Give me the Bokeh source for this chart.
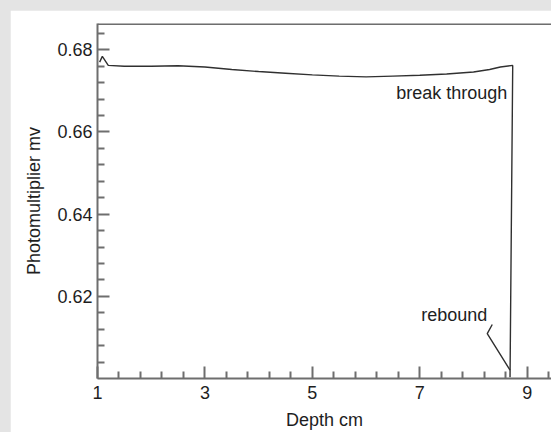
from bokeh.plotting import figure
from bokeh.models import FixedTicker, Span, Spacer, ColumnDataSource
from bokeh.layouts import column, row
from bokeh.embed import file_html
from bokeh.resources import INLINE
from bokeh.core.properties import value

# ---- data ----
depth = [1.04, 1.09, 1.2, 1.5, 2.0, 2.5, 3.0, 3.5, 4.0, 4.5, 5.0, 5.5, 6.0,
         6.5, 7.0, 7.5, 8.0, 8.3, 8.5, 8.73, 8.68]
signal = [0.6770, 0.6784, 0.6762, 0.6760, 0.6760, 0.6761, 0.6758, 0.6752,
          0.6747, 0.6743, 0.6739, 0.6736, 0.6734, 0.6736, 0.6738, 0.6741,
          0.6746, 0.6752, 0.6758, 0.6762, 0.6003]

x_major = [1, 3, 5, 7, 9]
x_minor = [1.4, 1.8, 2.2, 2.6, 3.4, 3.8, 4.2, 4.6, 5.4, 5.8, 6.2, 6.6,
           7.4, 7.8, 8.2, 8.6, 9.4]
y_major = [0.62, 0.64, 0.66, 0.68]
y_minor = [0.604, 0.608, 0.612, 0.616, 0.624, 0.628, 0.632, 0.636,
           0.644, 0.648, 0.652, 0.656, 0.664, 0.668, 0.672, 0.676, 0.684]
y_labels = ["0.62", "0.64", "0.66", "0.68"]

note_text = ["break through", "rebound"]
note_x = [8.63, 8.256]
note_y = [0.6695, 0.6155]

leader_x = [8.349, 8.256, 8.680]
leader_y = [0.61314, 0.61092, 0.60206]

x_title = "Depth cm"
y_title = "Photomultiplier mv"

FONT = "Liberation Sans"
FS = "18px"

p = figure(width=541, height=422, x_range=(1, 9.452), y_range=(0.600, 0.6864),
           output_backend="svg", toolbar_location=None,
           min_border_left=87, min_border_right=0, min_border_top=13,
           min_border_bottom=53, background_fill_color="white",
           border_fill_color="white", outline_line_color=None)
p.grid.visible = False

p.line(depth, signal, line_color="#303030", line_width=1.4)
p.line(leader_x, leader_y, line_color="#303030", line_width=1.4)

src = ColumnDataSource(dict(x=note_x, y=note_y, t=note_text))
p.text(x="x", y="y", text="t", source=src, text_align="right",
       text_baseline="middle", text_font=value(FONT), text_font_size=FS,
       text_color="#1e1e1e")

top = Span(location=0.68625, dimension="width", line_color="#6e6e6e", line_width=2)
p.add_layout(top)

for ax in (p.xaxis[0], p.yaxis[0]):
    ax.axis_line_color = "#6e6e6e"
    ax.axis_line_width = 2
    ax.major_tick_line_color = "#6e6e6e"
    ax.minor_tick_line_color = "#6e6e6e"
    ax.major_tick_line_width = 2
    ax.minor_tick_line_width = 2
    ax.major_tick_in = 12
    ax.major_tick_out = 0
    ax.minor_tick_in = 7
    ax.minor_tick_out = 0
    ax.major_label_text_font = FONT
    ax.major_label_text_font_size = FS
    ax.major_label_text_color = "#1e1e1e"
    ax.axis_label_text_font = FONT
    ax.axis_label_text_font_size = FS
    ax.axis_label_text_font_style = "normal"
    ax.axis_label_text_color = "#1e1e1e"

p.xaxis[0].ticker = FixedTicker(ticks=x_major, minor_ticks=x_minor)
p.yaxis[0].ticker = FixedTicker(ticks=y_major, minor_ticks=y_minor)
p.yaxis[0].major_label_overrides = {v: s for v, s in zip(y_major, y_labels)}
p.xaxis[0].major_label_standoff = 7
p.yaxis[0].major_label_standoff = 5
p.xaxis[0].axis_label = x_title
p.yaxis[0].axis_label = y_title
p.xaxis[0].axis_label_standoff = 8
p.yaxis[0].axis_label_standoff = 10

layout = column(
    Spacer(width=551, height=10),
    row(Spacer(width=10, height=422), p),
    styles={"background-color": "#e4e4e4"},
)

open("out.html", "w").write(file_html(layout, INLINE))
